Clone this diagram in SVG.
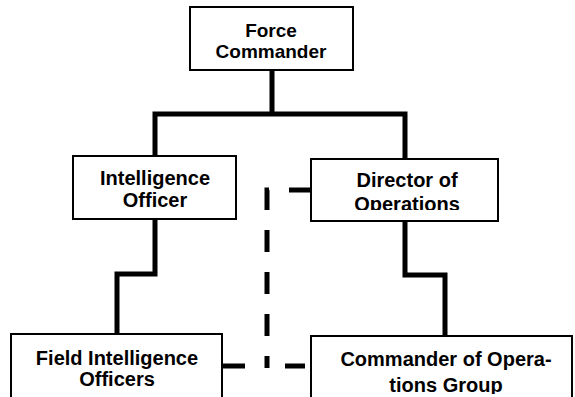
<svg xmlns="http://www.w3.org/2000/svg" width="575" height="397" viewBox="0 0 575 397">
<style>
.box{fill:#fff;stroke:#000;stroke-width:2}
.t{font-family:"Liberation Sans",Arial,sans-serif;font-weight:bold;font-size:20px;fill:#000;text-anchor:middle}
.s{font-size:19px}
.c{fill:none;stroke:#000;stroke-width:5}
.d{fill:none;stroke:#000;stroke-width:5}
</style>
<defs>
<clipPath id="cpDir"><rect x="311" y="159" width="188" height="51"/></clipPath>
<clipPath id="cpCmd"><rect x="311" y="337" width="262" height="57"/></clipPath>
</defs>
<g id="connectors">
<path class="c" d="M272,70 V114 M155,155 V114 H405 V159"/>
<path class="c" d="M155,219 V274 H117 V334"/>
<path class="c" d="M405,221 V275 H445 V336"/>
<path class="d" d="M311,190 H267 V368" stroke-dasharray="22 20"/>
<path class="d" d="M222,366 H311" stroke-dasharray="23 40 20 10"/>
</g>
<g id="force-commander">
<rect class="box" x="190" y="7" width="163" height="63"/>
<text class="t s" x="271" y="37">Force</text>
<text class="t s" x="271" y="58">Commander</text>
</g>
<g id="intelligence-officer">
<rect class="box" x="73" y="156" width="163" height="63"/>
<text class="t" x="155" y="185">Intelligence</text>
<text class="t" x="155" y="207">Officer</text>
</g>
<g id="director-of-operations">
<rect class="box" x="311" y="159" width="187" height="62"/>
<g clip-path="url(#cpDir)">
<text class="t" x="407" y="187">Director of</text>
<text class="t" x="407" y="211">Operations</text>
</g>
</g>
<g id="field-intelligence-officers">
<rect class="box" x="11" y="334" width="211" height="80"/>
<text class="t" x="117" y="365">Field Intelligence</text>
<text class="t" x="117" y="386">Officers</text>
</g>
<g id="commander-operations-group">
<rect class="box" x="311" y="336" width="261" height="80"/>
<g clip-path="url(#cpCmd)">
<text class="t" x="446" y="366">Commander of Opera-</text>
<text class="t" x="446" y="392">tions Group</text>
</g>
</g>
</svg>
